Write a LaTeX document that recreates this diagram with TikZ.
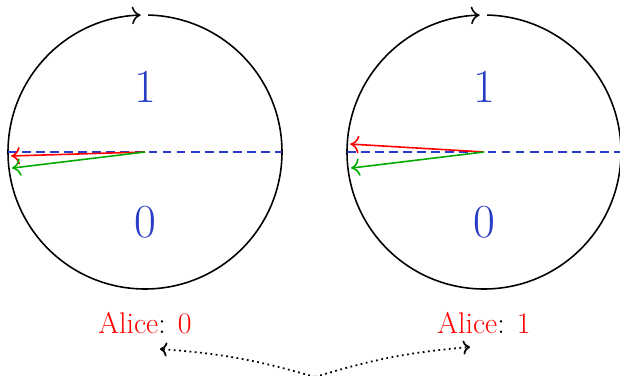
\documentclass[tikz,border=0pt]{standalone}
\usetikzlibrary{arrows.meta}
\definecolor{dblue}{RGB}{40,60,200}
\definecolor{dgreen}{RGB}{0,170,0}
\begin{document}
\begin{tikzpicture}[x=0.02cm,y=-0.02cm,
  rim/.style={black,line width=0.9pt},
  diam/.style={dblue,dashed,line width=0.9pt,dash pattern=on 5pt off 3pt},
  vec/.style={line width=0.9pt,-{To[length=5pt,width=10pt]}},
  digit/.style={text=dblue,font=\fontsize{27}{30}\selectfont},
  lbl/.style={font=\fontsize{17}{19}\selectfont},
  pointer/.style={line width=1pt,dotted,-{To[length=4pt,width=8pt]}}]
\useasboundingbox (0,0) rectangle (620,376);
% left circle
\coordinate (c1) at (145,152);
\draw[rim,-{To[length=5pt,width=10pt]}] (c1) ++(-88.7:137) arc[start angle=-88.7,end angle=268.2,radius=137];
\draw[diam] (c1) ++(180:137) -- ++(274,0);
\draw[vec,red] (c1) -- ++(178.3:134);
\draw[vec,dgreen] (c1) -- ++(173.1:134);
\node[digit] (one1) at (145,87) {1};
\node[digit] (zero1) at (145,222) {0};
% right circle
\coordinate (c2) at (484,152);
\draw[rim,-{To[length=5pt,width=10pt]}] (c2) ++(-88.7:137) arc[start angle=-88.7,end angle=268.2,radius=137];
\draw[diam] (c2) ++(180:137) -- ++(274,0);
\draw[vec,red] (c2) -- ++(183.4:134);
\draw[vec,dgreen] (c2) -- ++(173.1:134);
\node[digit] (one2) at (484,87) {1};
\node[digit] (zero2) at (484,222) {0};
% labels
\node[lbl] (a0) at (145,323) {\textcolor{red}{Alice}: \textcolor{red}{0}};
\node[lbl] (a1) at (484,323) {\textcolor{red}{Alice}: \textcolor{red}{1}};
\coordinate (src) at (315,377);
\coordinate (t0) at (160,349);
\coordinate (t1) at (470,347);
\draw[pointer] (src) to[bend right=6] (t0);
\draw[pointer] (src) to[bend left=6] (t1);
\end{tikzpicture}
\end{document}
